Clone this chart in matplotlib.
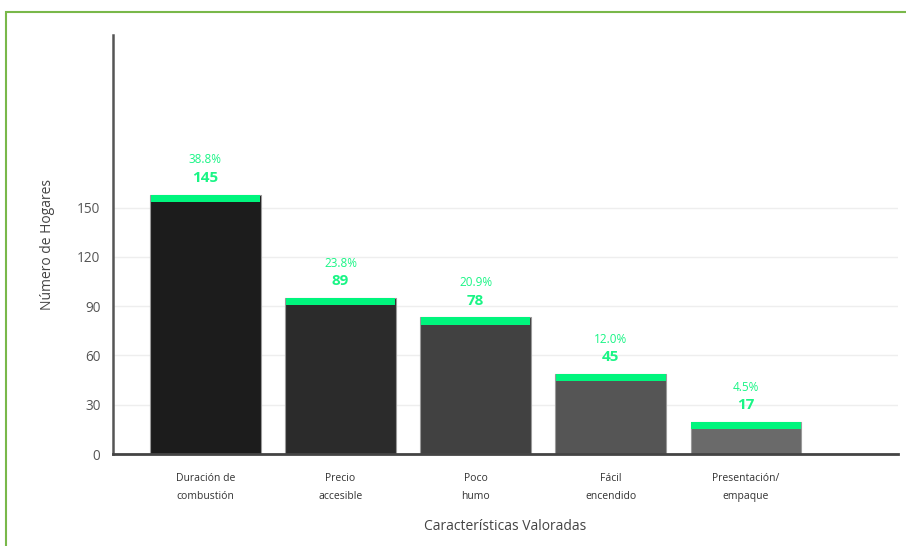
import matplotlib
matplotlib.use('agg')
import matplotlib.pyplot as plt
from matplotlib.patches import Rectangle

plt.rcParams['font.family'] = ['Open Sans', 'DejaVu Sans']

# data
categorias = ['Duración de\ncombustión', 'Precio\naccesible', 'Poco\nhumo',
              'Fácil\nencendido', 'Presentación/\nempaque']
hogares = [145, 89, 78, 45, 17]
porcentajes = [38.8, 23.8, 20.9, 12.0, 4.5]
# the drawn bars in the reference stand a bit above their labelled value
altura_barra = [157.7, 94.8, 83.1, 48.6, 19.3]
colores = ['#1c1c1c', '#2b2b2b', '#414141', '#555555', '#6a6a6a']

verde = '#00f57d'
verde_txt = '#19f585'

fig = plt.figure(figsize=(9.06, 5.46), dpi=100)
# green frame, cut by the picture on right and bottom
fig.patches.append(Rectangle((6 / 906, -0.05), 1.1, 1 - 12 / 546 + 0.05,
                             transform=fig.transFigure, fill=False,
                             edgecolor='#79b84a', linewidth=1.5))

ax = fig.add_axes([113 / 906, 1 - 454 / 546, 785 / 906, 419 / 546])
x = list(range(len(categorias)))
ancho = 0.82
cap = 4.3

ax.bar(x, altura_barra, width=ancho, color=colores, edgecolor='#9a9a9a',
       linewidth=0.8, zorder=2)
ax.bar(x, [cap] * len(x), width=ancho - 0.01,
       bottom=[h - cap for h in altura_barra], color=verde, linewidth=0, zorder=3)

for xi, h, v, p in zip(x, altura_barra, hogares, porcentajes):
    ax.annotate(str(v), (xi, h), xytext=(0, 12.2), textcoords='offset points',
                ha='center', va='center', fontsize=11, fontweight='bold',
                color=verde_txt)
    ax.annotate('%.1f%%' % p, (xi, h), xytext=(0, 25.2), textcoords='offset points',
                ha='center', va='center', fontsize=8.5, color=verde_txt)

ax.set_xlim(-0.683, 5.124)
ax.set_ylim(0, 255)
ax.set_yticks([0, 30, 60, 90, 120, 150])
ax.yaxis.grid(True, color='#eeeeee', linewidth=1, zorder=0)
ax.set_axisbelow(True)
ax.set_xticks(x)
ax.set_xticklabels(categorias, fontsize=7.5, color='#333333', linespacing=1.85)
ax.tick_params(axis='x', length=0, pad=14)
ax.tick_params(axis='y', length=0, pad=9, labelsize=9.8, labelcolor='#555555')

for s in ['top', 'right']:
    ax.spines[s].set_visible(False)
ax.spines['left'].set_color('#555555')
ax.spines['left'].set_linewidth(1.8)
ax.spines['bottom'].set_color('#444444')
ax.spines['bottom'].set_linewidth(2)

ax.set_ylabel('Número de Hogares', fontsize=10, color='#444444', labelpad=16)
ax.set_xlabel('Características Valoradas', fontsize=10, color='#444444', labelpad=12)

fig.savefig('out.png', dpi=100)
